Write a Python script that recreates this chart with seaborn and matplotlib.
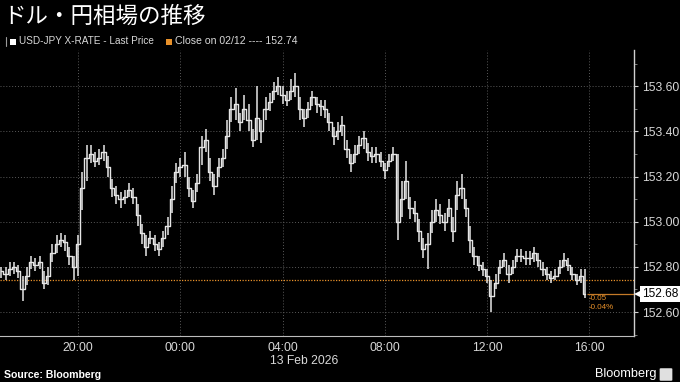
import numpy as np
import pandas as pd
import matplotlib
matplotlib.use("Agg")
import matplotlib.pyplot as plt
import matplotlib.transforms as mtrans
from matplotlib.patches import FancyBboxPatch, Rectangle
import seaborn as sns

# ---------------- data (10-minute bars, USD-JPY) ----------------
start_time = "2026-02-12 17:00"
closes = [152.78,152.77,152.79,152.80,152.78,152.70,152.76,152.82,152.81,152.82,
          152.73,152.76,152.86,152.90,152.92,152.91,152.85,152.80,152.90,153.15,
          153.28,153.30,153.27,153.28,153.31,153.24,153.15,153.12,153.10,153.11,
          153.14,153.11,153.03,152.95,152.89,152.93,152.90,152.88,152.93,152.98,
          153.10,153.22,153.24,153.25,153.15,153.09,153.17,153.33,153.36,153.22,
          153.16,153.24,153.28,153.38,153.50,153.52,153.44,153.50,153.45,153.36,
          153.46,153.40,153.50,153.53,153.58,153.60,153.56,153.54,153.58,153.60,
          153.50,153.46,153.50,153.55,153.52,153.51,153.50,153.44,153.38,153.40,
          153.43,153.32,153.26,153.30,153.34,153.37,153.31,153.29,153.30,153.27,
          153.23,153.27,153.30,153.00,153.10,153.18,153.06,153.04,152.96,152.88,
          152.90,153.00,153.05,153.03,153.00,153.06,152.96,153.12,153.15,153.06,
          152.92,152.85,152.81,152.79,152.76,152.67,152.73,152.80,152.83,152.77,
          152.80,152.85,152.85,152.84,152.84,152.86,152.83,152.79,152.77,152.75,
          152.76,152.80,152.83,152.81,152.77,152.74,152.76,152.68]
highs = [152.80,152.80,152.82,152.82,152.81,152.76,152.80,152.85,152.84,152.85,
         152.78,152.80,152.90,152.94,152.95,152.94,152.89,152.85,152.94,153.22,
         153.34,153.34,153.31,153.32,153.34,153.29,153.19,153.16,153.13,153.14,
         153.17,153.15,153.08,152.99,152.94,152.96,152.94,152.91,152.96,153.02,
         153.16,153.26,153.28,153.31,153.20,153.14,153.21,153.38,153.41,153.28,
         153.21,153.28,153.32,153.45,153.55,153.59,153.48,153.56,153.52,153.41,
         153.60,153.45,153.55,153.57,153.62,153.64,153.60,153.58,153.63,153.66,
         153.55,153.50,153.53,153.58,153.55,153.54,153.54,153.48,153.42,153.44,
         153.47,153.36,153.30,153.34,153.38,153.40,153.35,153.33,153.33,153.31,
         153.26,153.30,153.33,153.30,153.18,153.27,153.11,153.09,153.01,152.93,
         152.95,153.05,153.10,153.08,153.04,153.10,153.02,153.18,153.21,153.10,
         152.98,152.89,152.85,152.82,152.79,152.74,152.77,152.83,152.86,152.81,
         152.83,152.88,152.88,152.87,152.87,152.89,152.86,152.82,152.80,152.78,
         152.79,152.83,152.86,152.84,152.80,152.77,152.79,152.79]
lows = [152.75,152.74,152.76,152.77,152.75,152.65,152.72,152.79,152.78,152.79,
        152.70,152.72,152.82,152.86,152.89,152.87,152.81,152.74,152.76,153.05,
        153.18,153.26,153.24,153.25,153.27,153.20,153.11,153.08,153.06,153.08,
        153.11,153.08,152.98,152.90,152.85,152.90,152.87,152.85,152.89,152.94,
        153.04,153.17,153.20,153.20,153.11,153.06,153.13,153.25,153.31,153.18,
        153.12,153.20,153.24,153.32,153.44,153.45,153.40,153.45,153.40,153.33,
        153.36,153.35,153.45,153.49,153.54,153.56,153.52,153.51,153.54,153.55,
        153.45,153.42,153.46,153.51,153.48,153.47,153.46,153.40,153.34,153.36,
        153.38,153.28,153.22,153.26,153.30,153.32,153.27,153.26,153.26,153.24,
        153.19,153.24,153.27,152.92,153.02,153.10,153.01,153.00,152.91,152.84,
        152.79,152.95,153.00,152.99,152.96,153.02,152.91,153.05,153.10,153.02,
        152.86,152.81,152.78,152.76,152.73,152.60,152.70,152.77,152.80,152.73,
        152.77,152.82,152.82,152.81,152.81,152.82,152.80,152.76,152.74,152.73,
        152.74,152.77,152.80,152.78,152.74,152.72,152.73,152.66]
prev_close = 152.74
last_price = 152.68
change_abs = "-0.05"
change_pct = "-0.04%"
xtick_hours = [3, 7, 11, 15, 19, 23]
xtick_labels = ["20:00", "00:00", "04:00", "08:00", "12:00", "16:00"]
ytick_values = [152.60, 152.80, 153.00, 153.20, 153.40, 153.60]
title = "ドル・円相場の推移"
legend_1 = "USD-JPY X-RATE - Last Price"
legend_2 = "Close on 02/12 ---- 152.74"
date_label = "13 Feb 2026"

times = pd.date_range(start_time, periods=len(closes), freq="10min")
hours = (times - pd.Timestamp(start_time)).total_seconds() / 3600.0
df = pd.DataFrame({"h": hours, "close": closes, "high": highs, "low": lows})

# ---------------- style ----------------
sns.set_style("dark", {"axes.facecolor": "black", "figure.facecolor": "black",
                       "axes.edgecolor": "#d0d0d0", "grid.color": "#555555"})
plt.rcParams["font.family"] = ["Liberation Sans", "Noto Sans CJK JP", "DejaVu Sans"]
TXT = "#d8d8d8"
ORANGE = "#e8912a"

fig = plt.figure(figsize=(6.8, 3.82), dpi=100, facecolor="black")
ax = fig.add_axes([0.0, 1 - 336 / 382, 634 / 680, (336 - 50) / 382])
ax.set_facecolor("black")

# bars
ax.vlines(df["h"], df["low"], df["high"], color="#e6e6e6", lw=1.1, zorder=3)
sns.lineplot(data=df, x="h", y="close", drawstyle="steps-mid", color="#e6e6e6",
             lw=1.0, ax=ax, zorder=3)

# reference lines
ax.axhline(prev_close, color=ORANGE, ls=(0, (1, 1.2)), lw=0.9, zorder=2)
ax.hlines(last_price, hours[-1] + 0.05, 24.8, color="#c47a28", lw=0.9, zorder=2)

ax.set_xlim(-0.05, 24.74)
ax.set_ylim(152.494, 153.76)

# grid
ax.set_xticks(xtick_hours)
ax.set_xticklabels(xtick_labels)
ax.set_xticks([1, 5, 9, 13, 17, 21], minor=True)
ax.set_yticks(ytick_values)
ax.set_yticklabels([f"{v:.2f}" for v in ytick_values])
ax.set_yticks(np.arange(152.5, 153.75, 0.1), minor=True)
ax.grid(True, which="major", color="#5a5a5a", ls=(0, (1, 2)), lw=0.7)
ax.grid(False, which="minor")

ax.yaxis.tick_right()
ax.tick_params(axis="y", which="major", colors="#d0d0d0", labelcolor=TXT,
               labelsize=8.7, length=3, width=0.8, pad=3, direction="out")
ax.tick_params(axis="y", which="minor", colors="#909090", length=2, width=0.6,
               direction="out")
ax.tick_params(axis="x", which="major", colors="#909090", labelcolor=TXT,
               labelsize=8.7, length=2.5, width=0.7, pad=1.5, direction="out")
ax.tick_params(axis="x", which="minor", colors="#909090", length=2, width=0.6,
               direction="out")
for side in ["left", "top"]:
    ax.spines[side].set_visible(False)
ax.spines["right"].set_color("#d0d0d0")
ax.spines["right"].set_linewidth(1.0)
ax.spines["bottom"].set_color("#bdbdbd")
ax.spines["bottom"].set_linewidth(0.8)
ax.set_xlabel("")
ax.set_ylabel("")

# change annotations
ax.text(hours[-1] + 0.14, last_price - 0.022, change_abs, color=ORANGE,
        fontsize=5.8, va="center", ha="left")
ax.text(hours[-1] + 0.14, last_price - 0.060, change_pct, color=ORANGE,
        fontsize=5.8, va="center", ha="left")

# last price box with a small left-pointing tip
trans = mtrans.blended_transform_factory(ax.transAxes, ax.transData)
ax.text(642 / 634, last_price, f"{last_price:.2f}", transform=trans, fontsize=8.6,
        color="black", ha="left", va="center", clip_on=False, zorder=6,
        bbox=dict(boxstyle="square,pad=0.18", fc="white", ec="none"))
ax.plot([638.5 / 634], [last_price], marker="<", markersize=6.5, color="white",
        transform=trans, clip_on=False, zorder=5, markeredgewidth=0)

# title / legend
fig.text(3 / 680, 1 - 16 / 382, title, color="white", fontsize=16.2,
         family=["Noto Sans CJK JP", "DejaVu Sans"], va="center", ha="left")
fig.patches.append(Rectangle((10 / 680, 1 - 45 / 382), 6 / 680, 6 / 382,
                             transform=fig.transFigure, fc="white", ec="none"))
fig.lines.append(plt.Line2D([6 / 680, 6 / 680], [1 - 46 / 382, 1 - 37 / 382],
                            transform=fig.transFigure, color="#9a9a9a", lw=0.8))
fig.text(19 / 680, 1 - 41.5 / 382, legend_1, color=TXT, fontsize=7.2,
         va="center", ha="left")
fig.patches.append(Rectangle((166 / 680, 1 - 45 / 382), 6 / 680, 6 / 382,
                             transform=fig.transFigure, fc=ORANGE, ec="none"))
fig.text(175 / 680, 1 - 41.5 / 382, legend_2, color=TXT, fontsize=7.6,
         va="center", ha="left")

# footer
fig.text(304 / 680, 1 - 361 / 382, date_label, color=TXT, fontsize=8.7,
         ha="center", va="center")
fig.text(4 / 680, 1 - 375 / 382, "Source: Bloomberg", color="white",
         fontsize=7.6, fontweight="bold", ha="left", va="center")
fig.text(656 / 680, 1 - 374 / 382, "Bloomberg", color="white", fontsize=9.2,
         ha="right", va="center")
fig.patches.append(FancyBboxPatch((661 / 680, 1 - 380 / 382), 10 / 680, 11 / 382,
                                  boxstyle="round,pad=0.002", transform=fig.transFigure,
                                  fc="#e0e0e0", ec="none"))

fig.savefig("out.png", dpi=100, facecolor="black")
